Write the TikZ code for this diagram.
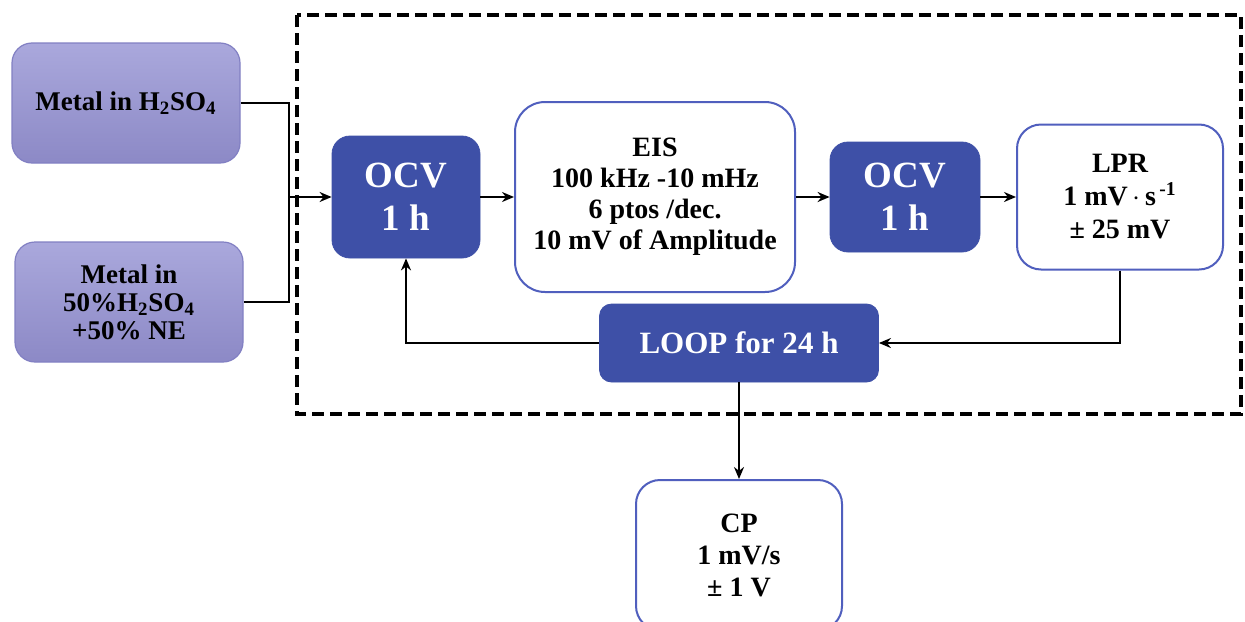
\documentclass[tikz,border=0pt]{standalone}
\usepackage{fontspec}
\setmainfont{Liberation Serif}
\usetikzlibrary{arrows.meta}
\definecolor{ocvblue}{RGB}{62,80,167}
\definecolor{framblue}{RGB}{80,95,190}
\definecolor{lavtop}{RGB}{170,168,220}
\definecolor{lavbot}{RGB}{140,137,198}
\definecolor{lavline}{RGB}{130,128,195}

\begin{document}
\begin{tikzpicture}[x=0.5pt,y=-0.5pt,
  sample/.style={draw=lavline,line width=0.6pt,rounded corners=10pt,top color=lavtop,bottom color=lavbot,
    minimum width=114pt,minimum height=60pt,align=center,font=\fontsize{13.5}{14}\selectfont\bfseries},
  darkbox/.style={fill=ocvblue,draw=ocvblue,rounded corners=9pt,text=white,align=center,
    font=\fontsize{18.5}{21.5}\selectfont\bfseries},
  whitebox/.style={draw=framblue,line width=1pt,fill=white,rounded corners=15pt,align=center,
    font=\fontsize{14}{15.5}\selectfont\bfseries},
  link/.style={line width=1pt,-{Stealth[length=6pt,width=5pt]}}]
  \clip (0,0) rectangle (1245,621);
  \fill[white] (0,0) rectangle (1245,621);

  \draw[line width=2pt,dash pattern=on 6pt off 3pt] (297,15) rectangle (1241,414);

  \node[sample] (metalA) at (126,103) {Metal in H\textsubscript{2}SO\textsubscript{4}};
  \node[sample] (metalB) at (129,302) {Metal in\\50\%H\textsubscript{2}SO\textsubscript{4}\\+50\% NE};

  \node[darkbox,minimum width=74pt,minimum height=61pt] (ocvA) at (406,197) {OCV\\1 h};
  \node[whitebox,minimum width=140pt,minimum height=95pt] (eis) at (655,197) {EIS\\100 kHz -10 mHz\\6 ptos /dec.\\10 mV of Amplitude};
  \node[darkbox,minimum width=75pt,minimum height=55pt] (ocvB) at (905,197) {OCV\\1 h};
  \node[whitebox,minimum width=103pt,minimum height=72.5pt,rounded corners=12pt,font=\fontsize{14}{16.5}\selectfont\bfseries]
    (lpr) at (1120,197) {LPR\\1 mV\,$\cdot$\,s\textsuperscript{\,-1}\\± 25 mV};
  \node[darkbox,minimum width=139.5pt,minimum height=39pt,rounded corners=6pt,font=\fontsize{15.5}{17}\selectfont\bfseries]
    (loop) at (739,343) {LOOP for 24 h};
  \node[whitebox,minimum width=103pt,minimum height=75pt,rounded corners=12pt,font=\fontsize{14}{16}\selectfont\bfseries]
    (cp) at (739,555) {CP\\1 mV/s\\± 1 V};

  \coordinate (join) at (289,197);
  \draw[line width=1pt] (metalA.east) -| (join);
  \draw[line width=1pt] (metalB.east) -| (join);
  \draw[link] (join) -- (ocvA.west);
  \draw[link] (ocvA) -- (eis);
  \draw[link] (eis) -- (ocvB);
  \draw[link] (ocvB) -- (lpr);
  \draw[link] (lpr.south) |- (loop.east);
  \draw[link] (loop.west) -| (ocvA.south);
  \draw[link] (loop.south) -- (cp.north);
\end{tikzpicture}
\end{document}
